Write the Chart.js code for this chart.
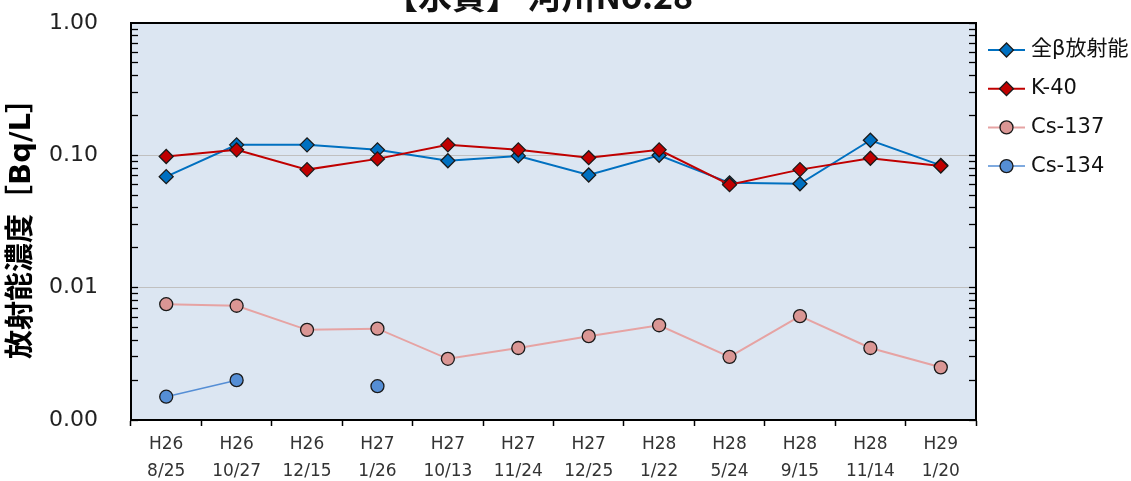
<!DOCTYPE html>
<html>
<head>
<meta charset="utf-8">
<script src="https://cdn.jsdelivr.net/npm/chart.js@4.4.1/dist/chart.umd.min.js"></script>
<style>
  html, body { margin: 0; padding: 0; background: #fff; }
  #wrap { width: 1131px; height: 481px; overflow: hidden; }
</style>
</head>
<body>
<div id="wrap"><canvas id="chart" width="1131" height="481"></canvas></div>
<script>
// ===== DATA =====
const chartTitle = '【水質】 河川No.28';
const yTitle = '放射能濃度［Bq/L］';
const seriesNames = ['全β放射能', 'K-40', 'Cs-137', 'Cs-134'];

const xYears = ['H26', 'H26', 'H26', 'H27', 'H27', 'H27', 'H27', 'H28', 'H28', 'H28', 'H28', 'H29'];
const xDates = ['8/25', '10/27', '12/15', '1/26', '10/13', '11/24', '12/25', '1/22', '5/24', '9/15', '11/14', '1/20'];

const betaVals  = [0.069, 0.12, 0.12, 0.11, 0.091, 0.099, 0.071, 0.10, 0.062, 0.061, 0.13, 0.084];
const k40Vals   = [0.098, 0.11, 0.078, 0.094, 0.12, 0.11, 0.096, 0.11, 0.060, 0.078, 0.095, 0.083];
const cs137Vals = [0.0075, 0.0073, 0.0048, 0.0049, 0.0029, 0.0035, 0.0043, 0.0052, 0.0030, 0.0061, 0.0035, 0.0025];
const cs134Vals = [0.0015, 0.0020, null, 0.0018, null, null, null, null, null, null, null, null];

const yDecades = [0.001, 0.01, 0.1, 1];

// ===== STYLE =====
const FONT = "'DejaVu Sans', 'Noto Sans CJK JP', sans-serif";
Chart.defaults.font.family = FONT;
Chart.defaults.color = '#222';

const isDecade = v => yDecades.some(d => Math.abs(v - d) < d * 1e-6);

// 1..9 x 10^n only (v4 would add 1.5 steps otherwise)
function logTicks(scale) {
  const ticks = [];
  yDecades.slice(0, -1).forEach(d => {
    for (let m = 1; m < 10; m++) ticks.push({ value: +(d * m).toPrecision(3) });
  });
  ticks.push({ value: yDecades[yDecades.length - 1] });
  scale.ticks = ticks;
}

function series(label, data, line, fill, style, r, order, width) {
  return {
    label, data, order,
    borderColor: line, borderWidth: width,
    pointBackgroundColor: fill, pointBorderColor: '#1a1a1a', pointBorderWidth: 1.3,
    pointStyle: style, pointRadius: r, pointHoverRadius: r,
    spanGaps: false, tension: 0
  };
}

const plotBg = {
  id: 'plotBg',
  beforeDraw(chart) {
    const { ctx, chartArea: a } = chart;
    ctx.save();
    ctx.fillStyle = '#dce6f2';
    ctx.fillRect(a.left, a.top, a.right - a.left, a.bottom - a.top);
    ctx.restore();
  }
};

// title sits mostly above the frame, as in the original
const topTitle = {
  id: 'topTitle',
  afterDraw(chart) {
    const { ctx, chartArea: a } = chart;
    ctx.save();
    ctx.font = "bold 34px 'Noto Sans CJK JP', sans-serif";
    ctx.fillStyle = '#111';
    ctx.textAlign = 'center';
    ctx.textBaseline = 'alphabetic';
    ctx.fillText(chartTitle, (a.left + a.right) / 2 - 15, 9);
    ctx.restore();
  }
};

const sideLegend = {
  id: 'sideLegend',
  afterDraw(chart) {
    const { ctx, chartArea: a } = chart;
    const x0 = a.right + 12, lineW = 37, top = a.top + 27, step = 38.7;
    chart.data.datasets.forEach((ds, i) => {
      const y = top + i * step;
      const cx = x0 + lineW / 2, r = ds.pointRadius;
      ctx.save();
      ctx.strokeStyle = ds.borderColor;
      ctx.lineWidth = ds.borderWidth;
      ctx.beginPath(); ctx.moveTo(x0, y); ctx.lineTo(x0 + lineW, y); ctx.stroke();
      ctx.beginPath();
      if (ds.pointStyle === 'rectRot') {
        ctx.moveTo(cx - r, y); ctx.lineTo(cx, y - r); ctx.lineTo(cx + r, y); ctx.lineTo(cx, y + r); ctx.closePath();
      } else {
        ctx.arc(cx, y, r, 0, Math.PI * 2);
      }
      ctx.fillStyle = ds.pointBackgroundColor; ctx.fill();
      ctx.strokeStyle = ds.pointBorderColor; ctx.lineWidth = ds.pointBorderWidth; ctx.stroke();
      ctx.font = '21px ' + FONT;
      ctx.fillStyle = '#111';
      ctx.textAlign = 'left';
      ctx.textBaseline = 'middle';
      ctx.fillText(ds.label, x0 + lineW + 6, y);
      ctx.restore();
    });
  }
};

new Chart(document.getElementById('chart'), {
  type: 'line',
  data: {
    labels: xYears.map((y, i) => [y, xDates[i]]),
    datasets: [
      series(seriesNames[0], betaVals, '#0070c0', '#0070c0', 'rectRot', 7, 1, 2),
      series(seriesNames[1], k40Vals, '#c00000', '#c00000', 'rectRot', 7, 0, 2),
      series(seriesNames[2], cs137Vals, '#e6a3a3', '#da9694', 'circle', 6.5, 2, 2),
      series(seriesNames[3], cs134Vals, '#558ed5', '#558ed5', 'circle', 6.5, 3, 1.5)
    ]
  },
  options: {
    responsive: false,
    animation: false,
    layout: { padding: { top: 23, right: 155, left: 0, bottom: 0 } },
    plugins: { legend: { display: false }, tooltip: { enabled: false } },
    scales: {
      x: {
        offset: true,
        grid: { offset: true, drawOnChartArea: false, color: '#000', tickLength: 6, tickWidth: 1.5 },
        border: { color: '#000', width: 2 },
        ticks: { font: { size: 17, lineHeight: 1.6 }, color: '#333', padding: 5, maxRotation: 0, autoSkip: false },
        afterFit: s => { s.height = 61; }
      },
      y: {
        type: 'logarithmic', min: 0.001, max: 1, position: 'left',
        afterBuildTicks: logTicks,
        // fixed width; the big label padding must not push the plot down
        afterFit: s => { s.width = 131; s.paddingTop = 13; s.paddingBottom = 13; },
        border: { color: '#000', width: 2 },
        grid: {
          color: c => {
            const v = c.tick && c.tick.value;
            if (v === 1) return '#000';
            return (v === 0.1 || v === 0.01) ? '#c0c0c0' : 'transparent';
          },
          lineWidth: c => (c.tick && c.tick.value === 1 ? 2 : 1),
          tickLength: -7, tickColor: '#000', tickWidth: 1.3
        },
        ticks: {
          autoSkip: false, padding: 40, font: { size: 22 }, color: '#222',
          callback: v => (isDecade(v) ? v.toFixed(2) : '')
        },
        title: {
          display: true, text: yTitle, color: '#000',
          font: { size: 29, weight: 'bold' }, padding: { top: 5, bottom: 0 }
        }
      },
      y2: {
        type: 'logarithmic', min: 0.001, max: 1, position: 'right',
        afterBuildTicks: logTicks,
        afterFit: s => { s.width = 0; },
        border: { color: '#000', width: 2 },
        grid: { drawOnChartArea: false, tickLength: -7, tickColor: '#000', tickWidth: 1.3 },
        ticks: { display: false }
      }
    }
  },
  plugins: [plotBg, topTitle, sideLegend]
});
</script>
</body>
</html>
